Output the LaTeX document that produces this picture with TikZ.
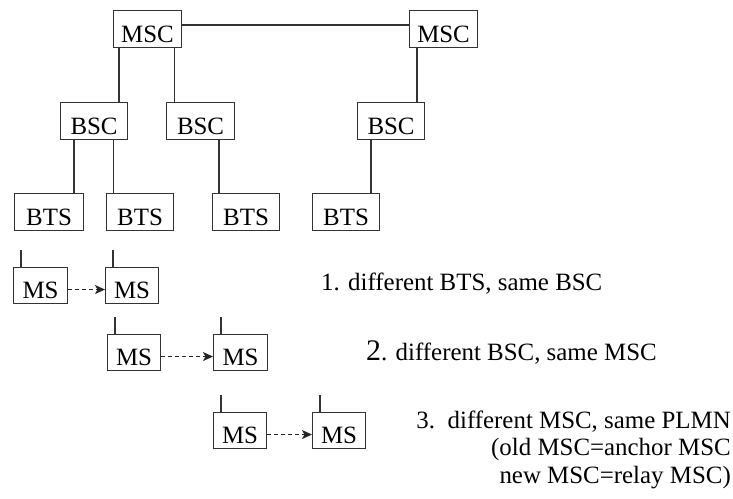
\documentclass[tikz,border=0pt]{standalone}
\usepackage{fontspec}
\setmainfont{Liberation Serif}
\usetikzlibrary{arrows.meta}

\begin{document}
\begin{tikzpicture}[x=1bp,y=-1bp,
  link/.style={draw=black!80, line width=1.1bp},
  unit/.style={draw=black!80, line width=1.1bp, inner xsep=0pt, inner ysep=0pt,
    minimum width=67bp, text height=32bp, text depth=5bp, anchor=north west,
    font=\fontsize{25}{28}\selectfont},
  mobile/.style={unit, minimum width=53bp, text height=31bp},
  handover/.style={draw=black!85, line width=1bp, dash pattern=on 4bp off 3bp,
    -{Stealth[length=10bp,width=9bp,inset=2.5bp]}},
  label/.style={inner sep=0pt, font=\fontsize{25}{27.5}\selectfont}]

\useasboundingbox (0,0) rectangle (733,499);

% switching centres
\node[unit, minimum width=68bp] (msc1) at (113,10) {MSC};
\node[unit, minimum width=68bp] (msc2) at (409,10) {MSC};
% base station controllers
\node[unit] (bsc1) at (60,102) {BSC};
\node[unit, minimum width=68bp] (bsc2) at (166,102) {BSC};
\node[unit] (bsc3) at (357,102) {BSC};
% base transceiver stations
\node[unit, minimum width=69bp] (bts1) at (14,193) {BTS};
\node[unit] (bts2) at (106,193) {BTS};
\node[unit] (bts3) at (212,193) {BTS};
\node[unit] (bts4) at (312,193) {BTS};

% hierarchy links
\draw[link] ([yshift=4bp]msc1.east) -- ([yshift=4bp]msc2.west);
\draw[link] ([xshift=6bp]msc1.south west) -- ([xshift=6bp]msc1.south west |- bsc1.north);
\draw[link] ([xshift=-8bp]msc1.south east) -- ([xshift=-8bp]msc1.south east |- bsc2.north);
\draw[link] ([xshift=8bp]msc2.south west) -- ([xshift=8bp]msc2.south west |- bsc3.north);
\draw[link] ([xshift=14bp]bsc1.south west) -- ([xshift=14bp]bsc1.south west |- bts1.north);
\draw[link] ([xshift=-15bp]bsc1.south east) -- ([xshift=-15bp]bsc1.south east |- bts2.north);
\draw[link] ([xshift=53bp]bsc2.south west) -- ([xshift=53bp]bsc2.south west |- bts3.north);
\draw[link] ([xshift=14bp]bsc3.south west) -- ([xshift=14bp]bsc3.south west |- bts4.north);

% mobile stations
\node[mobile, minimum width=54bp] (ms1) at (13,267) {MS};
\node[mobile] (ms2) at (105,267) {MS};
\node[mobile] (ms3) at (107,334) {MS};
\node[mobile, minimum width=54bp] (ms4) at (213,334) {MS};
\node[mobile] (ms5) at (213,412) {MS};
\node[mobile] (ms6) at (312,412) {MS};

% antennas
\foreach \m in {ms1,ms2,ms3,ms4,ms5,ms6}
  \draw[link] ([xshift=8bp]\m.north west) -- ++(0,-17);

% handovers
\draw[handover] ([yshift=-4bp]ms1.east) -- ([yshift=-4bp]ms2.west);
\draw[handover] ([yshift=-4bp]ms3.east) -- ([yshift=-4bp]ms4.west);
\draw[handover] ([yshift=-4bp]ms5.east) -- ([yshift=-4bp]ms6.west);

% handover cases
\node[label, anchor=base west] (case1) at (321,291) {1. different BTS, same BSC};
\node[label, anchor=base west] (case2) at (366,360) {{\fontsize{30}{30}\selectfont 2}. different BSC, same MSC};
\node[label, anchor=base east, align=right] (case3) at (731,483)
  {3.\ \ different MSC, same PLMN\\(old MSC=anchor MSC\\new MSC=relay MSC)};
\end{tikzpicture}
\end{document}
